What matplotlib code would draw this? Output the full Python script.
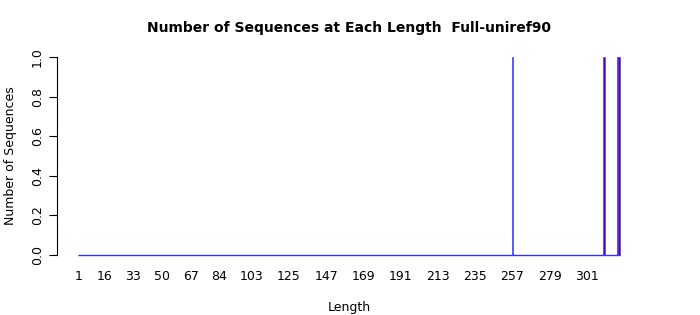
import numpy as np
import matplotlib
matplotlib.use('Agg')
import matplotlib.pyplot as plt

# --- DATA ---
lengths = list(range(1, 321))
hit_lengths = [257, 311, 319, 320]
counts = [1 if n in hit_lengths else 0 for n in lengths]
fill_colors = {257: '#2a2aff'}
tick_labels = [1, 16, 33, 50, 67, 84, 103, 125, 147, 169, 191, 213, 235, 257, 279, 301]
y_ticks = [0.0, 0.2, 0.4, 0.6, 0.8, 1.0]

# --- PLOT ---
fig = plt.figure(figsize=(7, 3.15), dpi=100)
ax = fig.add_axes([0.0809, 0.165, 0.8356, 0.679])

# R style barplot positions: width 1, space 0.2
centers = np.array([0.7 + 1.2 * i for i in range(len(lengths))])
colors = [fill_colors.get(n, '#6a009a') for n in lengths]
ax.bar(centers, counts, width=1.0, color=colors, edgecolor='#3030ff', linewidth=0.4)
# zero-height bars in R leave a continuous border along the baseline
ax.hlines(0, centers[0] - 0.5, centers[-1] + 0.5, color='#3030ff', linewidth=1.0)

span = centers[-1] + 0.5 - (centers[0] - 0.5)
pad = 0.04 * span
ax.set_xlim(centers[0] - 0.5 - pad, centers[-1] + 0.5 + pad)
ax.set_ylim(-0.04, 1.04)

for s in ['top', 'right', 'bottom']:
    ax.spines[s].set_visible(False)
ax.spines['left'].set_bounds(0, 1)
ax.spines['left'].set_linewidth(0.8)

ax.set_yticks(y_ticks)
ax.set_yticklabels([f'{v:.1f}' for v in y_ticks], rotation=90, va='center', fontsize=9)
ax.tick_params(axis='y', length=6, width=0.8, pad=3)

pos = {n: c for n, c in zip(lengths, centers)}
ax.set_xticks([pos[n] for n in tick_labels])
ax.set_xticklabels([str(n) for n in tick_labels], fontsize=9)
ax.tick_params(axis='x', length=0, pad=5)

ax.set_xlabel('Length', fontsize=9, labelpad=13)
ax.set_ylabel('Number of Sequences', fontsize=9, labelpad=10)
ax.set_title('Number of Sequences at Each Length  Full-uniref90',
             fontsize=10, fontweight='bold', pad=12)

fig.savefig('out.png', dpi=100)
